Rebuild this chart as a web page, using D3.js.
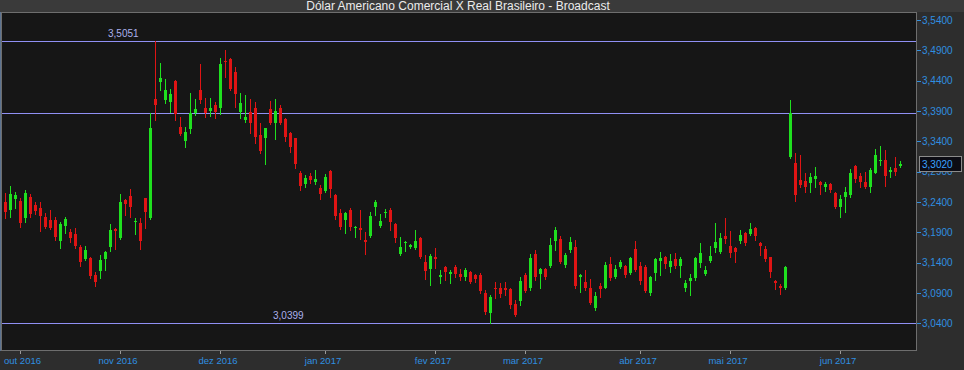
<!DOCTYPE html>
<html>
<head>
<meta charset="utf-8">
<script src="https://cdn.jsdelivr.net/npm/d3@7/dist/d3.min.js"></script>
<style>
  body { margin: 0; background: #2d2d2d; }
  svg { display: block; font-family: "Liberation Sans", Arial, sans-serif; }
</style>
</head>
<body>
<div class="chart"></div>
<script>
// Dolar comercial x Real - candles (daily)

var chartTitle = "Dólar Americano Comercial X Real Brasileiro - Broadcast";

var opens = [3.240,3.227,3.245,3.241,3.213,3.248,3.235,3.230,3.215,3.210,
  3.210,3.175,3.200,3.190,3.187,3.165,3.146,3.147,3.119,3.126,
  3.146,3.165,3.195,3.180,3.243,3.250,3.207,3.205,3.246,3.213,
  3.410,3.438,3.408,3.405,3.439,3.363,3.340,3.360,3.387,3.425,
  3.395,3.390,3.400,3.395,3.472,3.476,3.454,3.388,3.375,3.388,
  3.395,3.350,3.345,3.393,3.370,3.395,3.377,3.354,3.345,3.288,
  3.269,3.283,3.273,3.263,3.258,3.291,3.251,3.222,3.210,3.227,
  3.197,3.197,3.177,3.184,3.231,3.200,3.222,3.227,3.203,3.154,
  3.172,3.165,3.164,3.180,3.141,3.129,3.149,3.116,3.132,3.121,
  3.132,3.121,3.116,3.124,3.119,3.119,3.090,3.057,3.099,3.099,
  3.099,3.096,3.071,3.076,3.119,3.098,3.154,3.121,3.129,3.134,
  3.175,3.179,3.136,3.161,3.165,3.116,3.108,3.098,3.066,3.101,
  3.099,3.137,3.116,3.132,3.134,3.123,3.162,3.134,3.132,3.090,
  3.123,3.142,3.149,3.132,3.146,3.134,3.099,3.109,3.114,3.139,
  3.121,3.142,3.164,3.157,3.184,3.167,3.164,3.175,3.189,3.187,
  3.197,3.172,3.162,3.149,3.109,3.101,3.099,3.314,3.304,3.276,
  3.274,3.271,3.278,3.273,3.264,3.269,3.255,3.231,3.248,3.251,
  3.299,3.283,3.273,3.264,3.288,3.307,3.309,3.289,3.296,3.299];

var highs = [3.255,3.266,3.256,3.246,3.260,3.253,3.240,3.240,3.222,3.227,
  3.215,3.207,3.215,3.195,3.197,3.169,3.167,3.149,3.124,3.152,
  3.159,3.203,3.197,3.253,3.245,3.261,3.213,3.213,3.247,3.387,
  3.5051,3.469,3.443,3.426,3.441,3.380,3.363,3.420,3.410,3.467,
  3.411,3.411,3.405,3.477,3.491,3.477,3.462,3.420,3.416,3.410,
  3.405,3.370,3.362,3.406,3.410,3.400,3.378,3.355,3.346,3.291,
  3.284,3.288,3.293,3.268,3.286,3.293,3.253,3.228,3.223,3.230,
  3.200,3.227,3.190,3.223,3.243,3.220,3.228,3.230,3.205,3.182,
  3.175,3.170,3.194,3.182,3.152,3.154,3.164,3.128,3.134,3.128,
  3.136,3.129,3.131,3.126,3.121,3.123,3.095,3.086,3.108,3.106,
  3.108,3.098,3.078,3.116,3.123,3.154,3.161,3.131,3.131,3.180,
  3.198,3.184,3.156,3.182,3.177,3.121,3.128,3.113,3.091,3.106,
  3.141,3.149,3.136,3.144,3.136,3.149,3.175,3.141,3.136,3.118,
  3.147,3.157,3.151,3.154,3.156,3.149,3.111,3.121,3.149,3.172,
  3.134,3.167,3.205,3.189,3.213,3.192,3.165,3.194,3.190,3.205,
  3.198,3.174,3.167,3.150,3.111,3.104,3.134,3.408,3.321,3.317,
  3.288,3.288,3.297,3.274,3.273,3.271,3.256,3.251,3.264,3.294,
  3.301,3.288,3.289,3.296,3.327,3.332,3.325,3.297,3.314,3.307];

var lows = [3.213,3.215,3.230,3.198,3.207,3.215,3.220,3.192,3.197,3.195,
  3.177,3.164,3.189,3.174,3.164,3.134,3.144,3.114,3.101,3.114,
  3.128,3.159,3.162,3.179,3.218,3.215,3.187,3.162,3.197,3.212,
  3.375,3.425,3.403,3.388,3.375,3.350,3.330,3.354,3.383,3.403,
  3.380,3.382,3.378,3.385,3.446,3.425,3.396,3.378,3.372,3.354,
  3.337,3.321,3.302,3.369,3.344,3.368,3.340,3.322,3.296,3.260,
  3.264,3.271,3.269,3.245,3.256,3.248,3.212,3.195,3.189,3.194,
  3.182,3.179,3.154,3.182,3.218,3.198,3.215,3.194,3.174,3.152,
  3.159,3.164,3.162,3.148,3.113,3.103,3.131,3.106,3.111,3.106,
  3.116,3.111,3.111,3.106,3.108,3.090,3.055,3.0399,3.081,3.083,
  3.086,3.066,3.052,3.070,3.091,3.095,3.111,3.099,3.113,3.132,
  3.161,3.139,3.132,3.157,3.099,3.091,3.095,3.072,3.062,3.083,
  3.098,3.111,3.114,3.131,3.116,3.121,3.126,3.104,3.091,3.086,
  3.111,3.119,3.131,3.124,3.131,3.116,3.093,3.086,3.111,3.132,
  3.119,3.141,3.157,3.156,3.172,3.149,3.141,3.172,3.169,3.185,
  3.177,3.152,3.142,3.116,3.096,3.088,3.096,3.313,3.241,3.265,
  3.256,3.256,3.264,3.253,3.258,3.256,3.230,3.215,3.223,3.248,
  3.273,3.264,3.263,3.256,3.287,3.301,3.266,3.281,3.284,3.297];

var closes = [3.223,3.253,3.251,3.205,3.255,3.220,3.225,3.217,3.198,3.197,
  3.182,3.203,3.212,3.180,3.167,3.141,3.161,3.118,3.108,3.144,
  3.157,3.194,3.192,3.240,3.236,3.231,3.208,3.175,3.223,3.362,
  3.400,3.444,3.425,3.418,3.385,3.352,3.355,3.387,3.393,3.408,
  3.387,3.395,3.388,3.467,3.471,3.426,3.418,3.403,3.380,3.370,
  3.347,3.324,3.362,3.370,3.390,3.370,3.347,3.330,3.302,3.266,
  3.279,3.276,3.278,3.253,3.281,3.261,3.217,3.198,3.222,3.198,
  3.198,3.194,3.174,3.217,3.240,3.208,3.223,3.207,3.180,3.165,
  3.174,3.169,3.175,3.149,3.126,3.151,3.146,3.119,3.124,3.124,
  3.121,3.116,3.128,3.108,3.113,3.093,3.058,3.083,3.096,3.088,
  3.095,3.070,3.053,3.109,3.093,3.147,3.116,3.129,3.116,3.169,
  3.194,3.141,3.152,3.174,3.101,3.119,3.098,3.073,3.085,3.096,
  3.136,3.114,3.129,3.141,3.119,3.147,3.128,3.109,3.093,3.116,
  3.146,3.147,3.137,3.142,3.134,3.146,3.106,3.114,3.147,3.156,
  3.128,3.151,3.174,3.180,3.179,3.156,3.157,3.185,3.172,3.195,
  3.184,3.167,3.146,3.124,3.106,3.099,3.132,3.387,3.251,3.268,
  3.264,3.281,3.283,3.268,3.269,3.260,3.231,3.245,3.256,3.288,
  3.278,3.273,3.264,3.293,3.317,3.309,3.283,3.293,3.289,3.302];

// month labels and the index of the first trading day of each month
var monthLabels = ["out 2016", "nov 2016", "dez 2016", "jan 2017", "fev 2017",
  "mar 2017", "abr 2017", "mai 2017", "jun 2017"];
var monthStart = [3, 23, 43, 64, 86, 104, 127, 145, 167];

var yTicks = [3.04, 3.09, 3.14, 3.19, 3.24, 3.29, 3.34, 3.39, 3.44, 3.49, 3.54];

// horizontal study lines (max, resistance, min)
var levelValues = [3.5051, 3.3862, 3.0399];
var levelShown = [true, false, true];
var levelLabelAt = [20.6, 53.6, 53.6]; // bar index where the label starts

var lastClose = closes[closes.length - 1];

var svgWidth = 964;
var svgHeight = 370;

var plot = { left: 1, right: 916, top: 12, bottom: 350 };

var fmt = function(v) { return d3.format(".4f")(v).replace(".", ","); };

var data = opens.map(function(o, i) {
  return { i: i, o: o, h: highs[i], l: lows[i], c: closes[i] };
});

var svg = d3.select(".chart")
  .append("svg")
  .attr("width", svgWidth)
  .attr("height", svgHeight);

// background + title bar
svg.append("rect")
  .attr("width", svgWidth).attr("height", svgHeight)
  .attr("fill", "#2d2d2d");

svg.append("rect")
  .attr("width", svgWidth).attr("height", plot.top)
  .attr("fill", "#3a3a3a");

svg.append("text")
  .attr("x", 458)
  .attr("y", 9.5)
  .attr("text-anchor", "middle")
  .attr("font-size", "12px")
  .attr("fill", "#ececec")
  .text(chartTitle);

// plot area
svg.append("rect")
  .attr("x", plot.left + 0.5)
  .attr("y", plot.top + 0.5)
  .attr("width", plot.right - plot.left)
  .attr("height", plot.bottom - plot.top)
  .attr("fill", "#161616")
  .attr("stroke", "#6e6e6e");

// bluish left edge
svg.append("line")
  .attr("x1", 0.5).attr("x2", 0.5)
  .attr("y1", plot.top).attr("y2", plot.bottom + 1)
  .attr("stroke", "#5d7390");

// scales
var xScale = d3.scaleLinear()
  .domain([0, data.length - 1])
  .range([5, 900]);

var yScale = d3.scaleLinear()
  .domain([3.04, 3.54])
  .range([323.3, 20]);

// right axis
var yAxis = svg.append("g").attr("class", "y-axis");

yAxis.selectAll("line")
  .data(yTicks)
  .enter()
  .append("line")
  .attr("x1", plot.right + 1)
  .attr("x2", plot.right + 5)
  .attr("y1", d => Math.round(yScale(d)) + 0.5)
  .attr("y2", d => Math.round(yScale(d)) + 0.5)
  .attr("stroke", "#2f8fe0");

yAxis.selectAll("text")
  .data(yTicks)
  .enter()
  .append("text")
  .attr("x", plot.right + 6)
  .attr("y", d => yScale(d) + 3.7)
  .attr("font-size", "10px")
  .attr("fill", "#2f8fe0")
  .text(d => fmt(d));

// bottom axis
var xAxis = svg.append("g").attr("class", "x-axis");

xAxis.selectAll("line")
  .data(monthStart)
  .enter()
  .append("line")
  .attr("x1", d => Math.round(xScale(d)) + 0.5)
  .attr("x2", d => Math.round(xScale(d)) + 0.5)
  .attr("y1", plot.bottom + 1)
  .attr("y2", plot.bottom + 4)
  .attr("stroke", "#9a9a9a");

xAxis.selectAll("text")
  .data(monthStart)
  .enter()
  .append("text")
  .attr("y", 364)
  .attr("font-size", "9.5px")
  .attr("fill", "#2f8fe0")
  .text((d, i) => monthLabels[i])
  .attr("x", function(d) {
    var w = this.getComputedTextLength();
    return Math.max(4, xScale(d) - 2 - w / 2);
  });

// level lines
var levels = svg.append("g").attr("class", "levels");

levels.selectAll("line")
  .data(levelValues)
  .enter()
  .append("line")
  .attr("x1", plot.left + 1)
  .attr("x2", plot.right)
  .attr("y1", d => Math.round(yScale(d)) + 0.5)
  .attr("y2", d => Math.round(yScale(d)) + 0.5)
  .attr("stroke", "#9090f4");

levels.selectAll("text")
  .data(levelValues.filter((d, i) => levelShown[i]))
  .enter()
  .append("text")
  .attr("x", (d, i) => xScale(levelLabelAt[levelValues.indexOf(d)]))
  .attr("y", d => Math.round(yScale(d)) - 4)
  .attr("font-size", "10px")
  .attr("fill", "#aab0ec")
  .text(d => fmt(d));

// candles
var candles = svg.append("g").attr("class", "candles")
  .selectAll("g")
  .data(data)
  .enter()
  .append("g")
  .attr("fill", d => d.c >= d.o ? "#1fe01f" : "#e01414")
  .attr("stroke", d => d.c >= d.o ? "#1fe01f" : "#e01414");

candles.append("line")
  .attr("x1", d => Math.round(xScale(d.i)) + 0.5)
  .attr("x2", d => Math.round(xScale(d.i)) + 0.5)
  .attr("y1", d => Math.round(yScale(d.h)))
  .attr("y2", d => Math.round(yScale(d.l)) + 1);

candles.append("rect")
  .attr("stroke", "none")
  .attr("x", d => Math.round(xScale(d.i)) - 1)
  .attr("width", 3)
  .attr("y", d => Math.round(yScale(Math.max(d.o, d.c))))
  .attr("height", d => Math.max(1, Math.round(yScale(Math.min(d.o, d.c))) - Math.round(yScale(Math.max(d.o, d.c)))));

// last price box
var lastY = Math.round(yScale(lastClose));

svg.append("rect")
  .attr("x", plot.right + 3.5)
  .attr("y", lastY - 7.5)
  .attr("width", 42)
  .attr("height", 15)
  .attr("fill", "#0c0c14")
  .attr("stroke", "#8c8c8c");

svg.append("text")
  .attr("x", plot.right + 6)
  .attr("y", lastY + 4)
  .attr("font-size", "10px")
  .attr("fill", "#3aa2ff")
  .text(fmt(lastClose));
</script>
</body>
</html>
